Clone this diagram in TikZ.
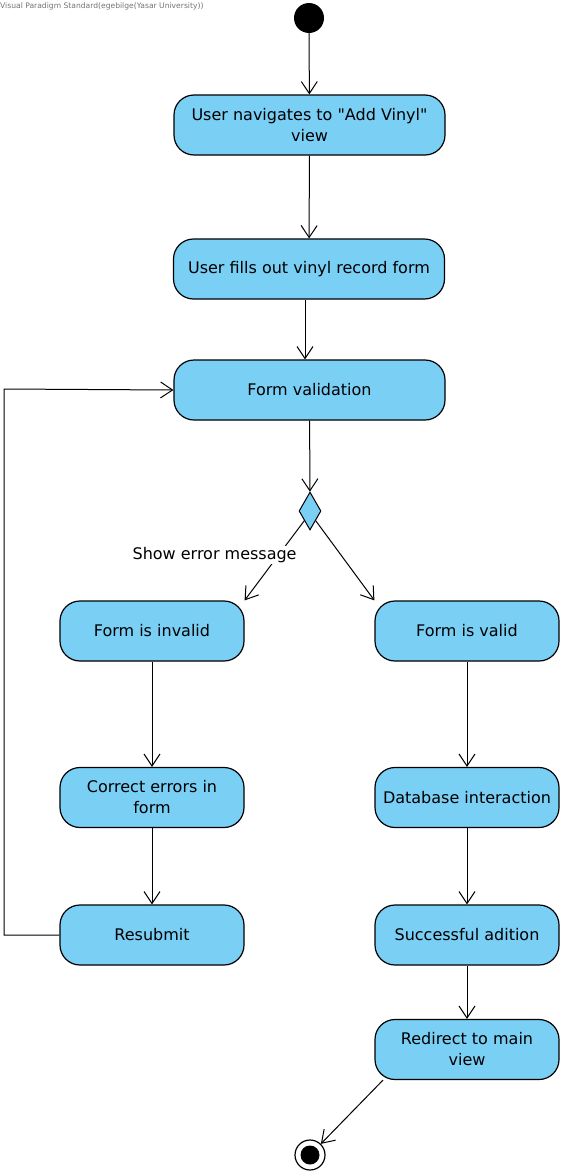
\documentclass[tikz,border=0pt]{standalone}
\usepackage{fontspec}
\setmainfont{DejaVu Sans}[Ligatures=TeXOff]
\usetikzlibrary{arrows.meta,shapes.geometric}
\definecolor{actfill}{RGB}{122,207,245}
\tikzset{
  x=1pt,y=-1pt,
  act/.style={draw=black,fill=actfill,line width=1.2pt,rounded corners=20pt,minimum width=#1,minimum height=60pt,align=center,font=\fontsize{16}{21}\selectfont,inner sep=2pt},
  act/.default=271pt,
  flow/.style={draw=black,line width=1pt,-{Straight Barb[length=12pt,width=16pt,line width=1pt]}},
  dec/.style={diamond,draw=black,fill=actfill,line width=1pt,minimum width=22pt,minimum height=38pt,inner sep=0pt,aspect=0.55},
}
\begin{document}
\begin{tikzpicture}
\useasboundingbox (0,0) rectangle (566,1175);
\node[anchor=north west,text=gray!90!black,font=\fontsize{7.6}{8}\selectfont,inner sep=0pt] (wm) at (0,3) {Visual Paradigm Standard(egebilge(Yasar University))};
\node[circle,fill=black,minimum size=30pt,inner sep=0pt] (start) at (309,18) {};
\node[act] (n1) at (309.5,125) {User navigates to "Add Vinyl"\\view};
\node[act] (n2) at (309,269) {User fills out vinyl record form};
\node[act] (n3) at (309.5,390) {Form validation};
\node[dec] (d) at (310,511) {};
\node[act=184pt] (inv) at (152,631) {Form is invalid};
\node[act=184pt] (val) at (467,631) {Form is valid};
\node[act=184pt] (cor) at (152,797.5) {Correct errors in\\form};
\node[act=184pt] (db) at (467,797.5) {Database interaction};
\node[act=184pt] (res) at (152,935) {Resubmit};
\node[act=184pt] (suc) at (467,935) {Successful adition};
\node[act=184pt] (red) at (467,1049.5) {Redirect to main\\view};
\node[circle,draw=black,line width=1.2pt,fill=white,minimum size=30pt,inner sep=0pt] (end) at (310,1155) {};
\node[circle,fill=black,minimum size=19pt,inner sep=0pt] (endin) at (end) {};
\coordinate (lb) at (4,935);
\coordinate (lt) at (4,389);
\draw[flow] (start) -- (n1);
\draw[flow] (n1) -- (n2);
\draw[flow] ([xshift=-4pt]n2.south) -- ([xshift=-4pt]n2.south |- n3.north);
\draw[flow] (n3) -- (d);
\draw[flow] (d.south west) -- (inv.north east) node[pos=0.38,xshift=-67pt,yshift=-4pt,fill=white,inner sep=1pt,font=\fontsize{16}{18}\selectfont] (lbl) {Show error message};
\draw[flow] (d.south east) -- (val.north west);
\draw[flow] (inv) -- (cor);
\draw[flow] (cor) -- (res);
\draw[flow] (res.west) -- (lb) -- (lt) -- (n3.west);
\draw[flow] (val) -- (db);
\draw[flow] (db) -- (suc);
\draw[flow] (suc) -- (red);
\draw[flow] ([xshift=-84pt]red.south) -- (end);
\end{tikzpicture}
\end{document}
